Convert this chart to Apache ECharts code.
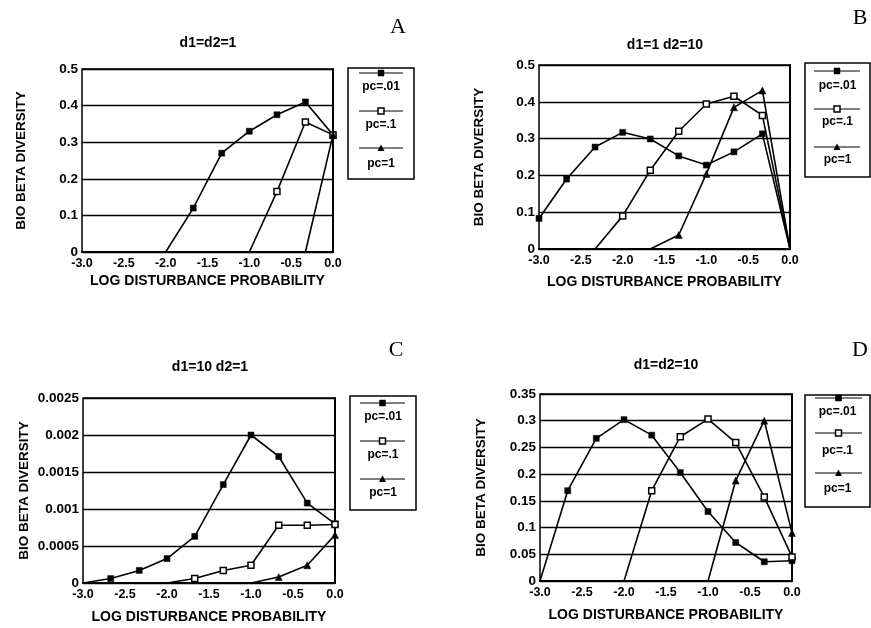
<!DOCTYPE html>
<html><head><meta charset="utf-8">
<script src="https://cdn.jsdelivr.net/npm/echarts@6/dist/echarts.min.js"></script>
<style>html,body{margin:0;padding:0;background:#fff}#c{width:871px;height:628px}</style>
</head><body><div id="c"></div>
<script>
// log10 disturbance probability (x categories)
const xs = [-3, -2.67, -2.33, -2, -1.67, -1.33, -1, -0.67, -0.33, 0];
const seriesNames = ['pc=.01', 'pc=.1', 'pc=1'];
const xTicks = ['-3.0', '-2.5', '-2.0', '-1.5', '-1.0', '-0.5', '0.0'];

// Panel A: d1=d2=1
const aPc01 = [0, 0, 0, 0, 0.12, 0.27, 0.33, 0.375, 0.41, 0.32];
const aPc1  = [0, 0, 0, 0, 0, 0, 0, 0.165, 0.355, 0.32];
const aPc10 = [0, 0, 0, 0, 0, 0, 0, 0, 0, 0.32];
// Panel B: d1=1 d2=10
const bPc01 = [0.083, 0.19, 0.277, 0.317, 0.299, 0.253, 0.228, 0.264, 0.313, 0];
const bPc1  = [0, 0, 0, 0.09, 0.214, 0.32, 0.394, 0.415, 0.363, 0];
const bPc10 = [0, 0, 0, 0, 0, 0.038, 0.204, 0.385, 0.431, 0];
// Panel C: d1=10 d2=1
const cPc01 = [0, 0.00006, 0.00017, 0.00033, 0.00063, 0.00133, 0.002, 0.00171, 0.00108, 0.0008];
const cPc1  = [0, 0, 0, 0, 0.00006, 0.00017, 0.00024, 0.00078, 0.00078, 0.00079];
const cPc10 = [0, 0, 0, 0, 0, 0, 0, 0.00008, 0.00024, 0.00065];
// Panel D: d1=d2=10
const dPc01 = [0, 0.169, 0.267, 0.302, 0.273, 0.203, 0.13, 0.072, 0.036, 0.038];
const dPc1  = [0, 0, 0, 0, 0.169, 0.27, 0.303, 0.259, 0.157, 0.045];
const dPc10 = [0, 0, 0, 0, 0, 0, 0, 0.188, 0.30, 0.09];

const panels = [
  {title: 'd1=d2=1', letter: 'A', data: [aPc01, aPc1, aPc10], yMax: 0.5, yInt: 0.1,
   grid: {left: 82, top: 69, width: 251, height: 183}, yGap: 54, xGap: 22,
   titlePos: [208, 36], letterPos: [398, 16],
   legend: {x: 348, y: 68, w: 66, h: 111, l0: 359, l1: 403, lines: [73, 111, 148], texts: [87, 125, 164]}},
  {title: 'd1=1 d2=10', letter: 'B', data: [bPc01, bPc1, bPc10], yMax: 0.5, yInt: 0.1,
   grid: {left: 539, top: 65, width: 251, height: 184}, yGap: 53, xGap: 26,
   titlePos: [665, 38], letterPos: [860, 7],
   legend: {x: 805, y: 63, w: 65, h: 114, l0: 814, l1: 860, lines: [71, 109, 147], texts: [86, 122, 160]}},
  {title: 'd1=10 d2=1', letter: 'C', data: [cPc01, cPc1, cPc10], yMax: 0.0025, yInt: 0.0005,
   grid: {left: 83, top: 398, width: 252, height: 185}, yGap: 52, xGap: 27,
   titlePos: [210, 360], letterPos: [396, 339],
   legend: {x: 350, y: 396, w: 66, h: 114, l0: 360, l1: 405, lines: [403, 441, 479], texts: [417, 455, 493]}},
  {title: 'd1=d2=10', letter: 'D', data: [dPc01, dPc1, dPc10], yMax: 0.35, yInt: 0.05,
   grid: {left: 540, top: 394, width: 252, height: 187}, yGap: 52, xGap: 27,
   titlePos: [666, 358], letterPos: [860, 339],
   legend: {x: 805, y: 395, w: 65, h: 112, l0: 815, l1: 862, lines: [398, 433, 473], texts: [412, 451, 489]}}
];

const FONT = 'Liberation Sans, Arial, sans-serif';
const markerStyles = [
  {symbol: 'rect', color: '#000', border: '#000'},
  {symbol: 'rect', color: '#fff', border: '#000'},
  {symbol: 'triangle', color: '#000', border: '#000'}
];

const grids = [], xAxes = [], yAxes = [], series = [], graphics = [];
panels.forEach((p, i) => {
  grids.push(Object.assign({show: true, borderColor: '#000', borderWidth: 1.5, backgroundColor: 'transparent'}, p.grid));
  xAxes.push({
    type: 'value', gridIndex: i, min: -3, max: 0, interval: 0.5,
    name: 'LOG DISTURBANCE PROBABILITY', nameLocation: 'middle', nameGap: p.xGap,
    nameTextStyle: {fontFamily: FONT, fontWeight: 'bold', fontSize: 14, color: '#000'},
    axisLine: {show: true, lineStyle: {color: '#000', width: 2}},
    axisTick: {show: false}, splitLine: {show: false},
    axisLabel: {margin: 5, fontFamily: FONT, fontWeight: 'bold', fontSize: 12.5, color: '#000',
      formatter: v => xTicks[Math.round((v + 3) / 0.5)]}
  });
  yAxes.push({
    type: 'value', gridIndex: i, min: 0, max: p.yMax, interval: p.yInt,
    name: 'BIO BETA DIVERSITY', nameLocation: 'middle', nameGap: p.yGap, nameRotate: 90,
    nameTextStyle: {fontFamily: FONT, fontWeight: 'bold', fontSize: 13.5, color: '#000'},
    axisLine: {show: true, lineStyle: {color: '#000', width: 2}},
    axisTick: {show: false},
    splitLine: {show: true, lineStyle: {color: '#000', width: 1.3}},
    axisLabel: {margin: 4, fontFamily: FONT, fontWeight: 'bold', fontSize: 13.5, color: '#000',
      formatter: v => String(+v.toFixed(4))}
  });
  p.data.forEach((arr, k) => {
    const m = markerStyles[k];
    series.push({
      type: 'line', name: seriesNames[k], xAxisIndex: i, yAxisIndex: i,
      data: xs.map((x, j) => [x, arr[j]]),
      symbol: m.symbol, symbolSize: v => (v[1] === 0 ? 0 : (k === 2 ? 7 : 6)),
      showAllSymbol: true, animation: false, z: 3,
      lineStyle: {color: '#000', width: 1.6},
      itemStyle: {color: m.color, borderColor: m.border, borderWidth: k === 1 ? 1.5 : 0.5}
    });
  });
  // titles and panel letters
  graphics.push({type: 'text', x: p.titlePos[0], y: p.titlePos[1],
    style: {text: p.title, font: 'bold 14px ' + FONT, fill: '#000', textAlign: 'center'}});
  graphics.push({type: 'text', x: p.letterPos[0], y: p.letterPos[1],
    style: {text: p.letter, font: '22px Liberation Serif, Times New Roman, serif', fill: '#000', textAlign: 'center'}});
  // legend box
  const L = p.legend;
  graphics.push({type: 'rect', shape: {x: L.x, y: L.y, width: L.w, height: L.h},
    style: {fill: 'none', stroke: '#000', lineWidth: 1.5}});
  const cx = (L.l0 + L.l1) / 2;
  seriesNames.forEach((nm, k) => {
    const ly = L.lines[k];
    graphics.push({type: 'line', shape: {x1: L.l0, y1: ly, x2: L.l1, y2: ly}, style: {stroke: '#000', lineWidth: 1}});
    if (k === 2) {
      graphics.push({type: 'polygon', shape: {points: [[cx, ly - 3.5], [cx - 3.5, ly + 3], [cx + 3.5, ly + 3]]}, style: {fill: '#000'}});
    } else {
      graphics.push({type: 'rect', shape: {x: cx - 3, y: ly - 3, width: 6, height: 6},
        style: {fill: k === 1 ? '#fff' : '#000', stroke: '#000', lineWidth: k === 1 ? 1.5 : 0.5}});
    }
    graphics.push({type: 'text', x: L.x + L.w / 2, y: L.texts[k],
      style: {text: nm, font: 'bold 12px ' + FONT, fill: '#000', textAlign: 'center', textVerticalAlign: 'middle'}});
  });
});

const chart = echarts.init(document.getElementById('c'), null, {renderer: 'canvas'});
chart.setOption({
  animation: false, backgroundColor: '#fff',
  grid: grids, xAxis: xAxes, yAxis: yAxes, series: series, graphic: graphics
});
</script></body></html>
